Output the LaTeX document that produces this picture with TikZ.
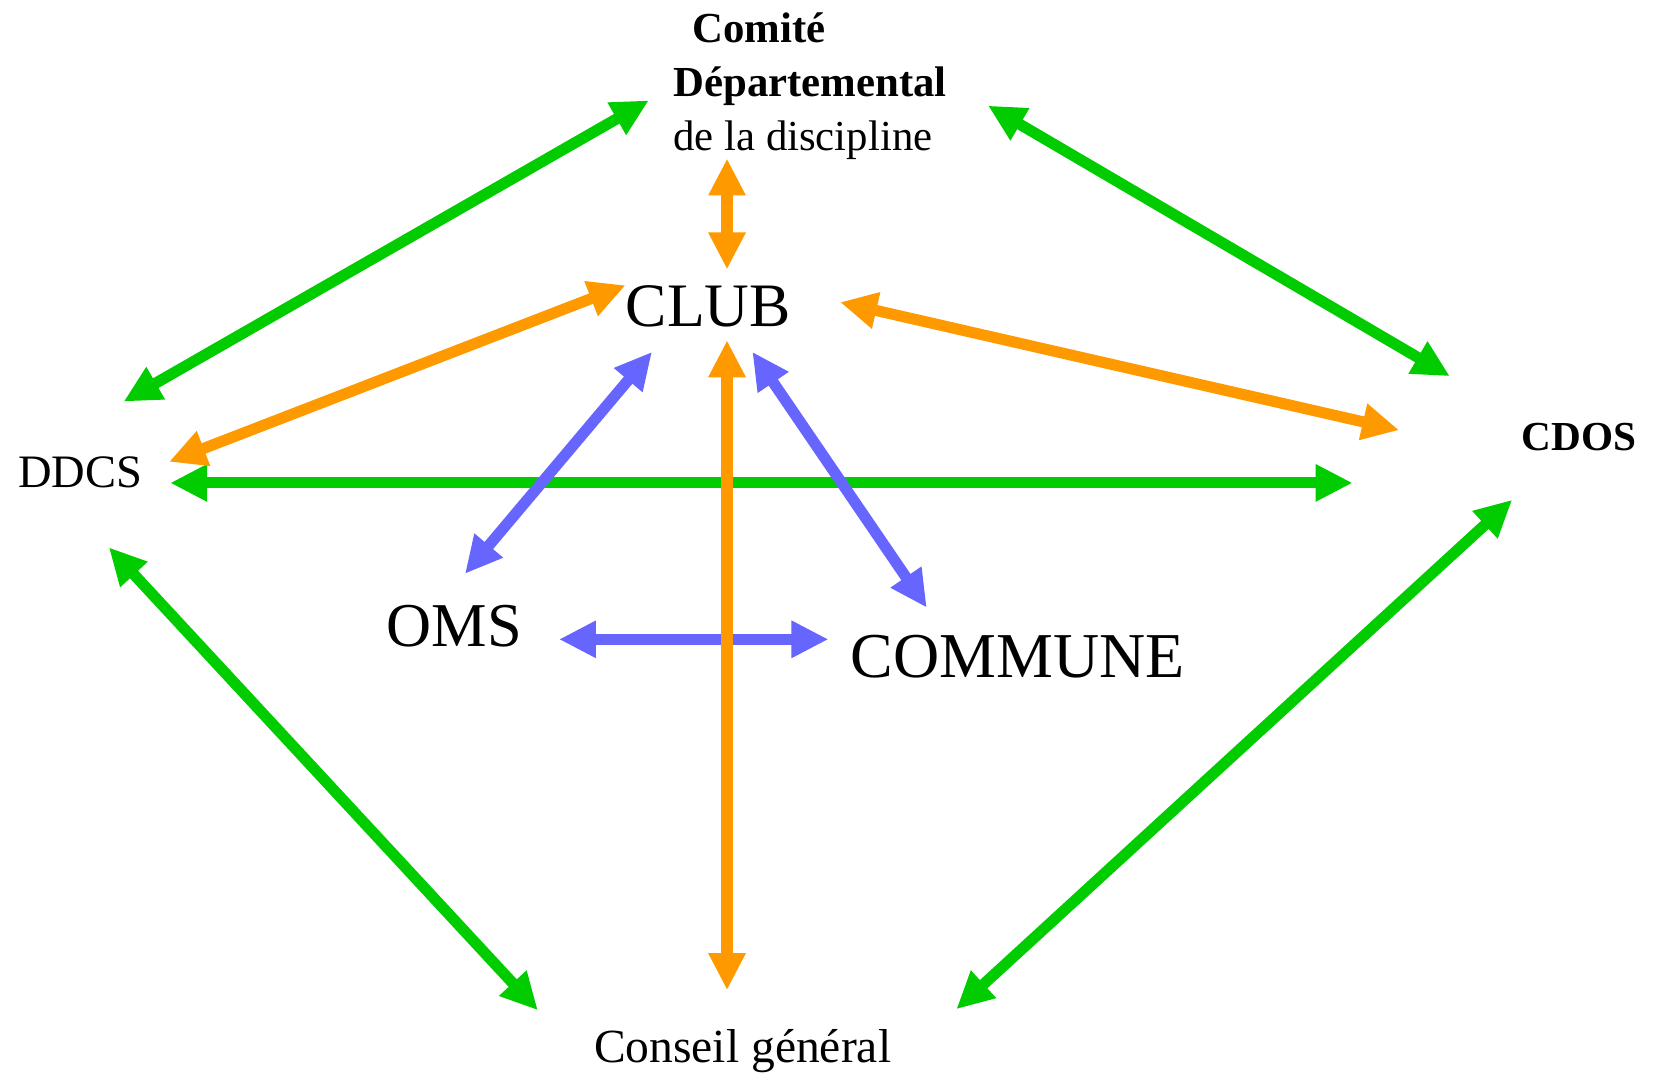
\documentclass[tikz,border=0pt]{standalone}
\usepackage{fontspec}
\setmainfont{Liberation Serif}
\usetikzlibrary{arrows.meta}
\definecolor{vert}{RGB}{0,204,0}
\definecolor{orng}{RGB}{255,153,0}
\definecolor{bleu}{RGB}{102,102,255}
\newcommand{\Fs}[1]{\fontsize{#1}{1.25\dimexpr#1pt\relax}\selectfont}

\begin{document}
\begin{tikzpicture}[x=1pt, y=-1pt,
  fl/.style={line width=10.5pt,
    {Triangle[length=35pt,width=33pt]}-{Triangle[length=35pt,width=33pt]}},
  lbl/.style={inner sep=0pt, anchor=base west}]

  \useasboundingbox (0,0) rectangle (1569,1016);

  % actors
  \node[inner sep=0pt, anchor=north west, align=left,
        font=\fontsize{40.5}{51}\selectfont] (comite) at (637,12)
    {\hspace{18pt}\textbf{Comité}\\\textbf{Départemental}\\de la discipline};
  \node[lbl, font=\Fs{58.5}] (club) at (592,309) {CLUB};
  \node[lbl, font=\Fs{44}] (ddcs) at (17,461) {DDCS};
  \node[lbl, font=\Fs{39}\bfseries] (cdos) at (1440,426) {CDOS};
  \node[lbl, font=\Fs{59}] (oms) at (366,612) {OMS};
  \node[lbl, font=\Fs{60.5}] (commune) at (805,641) {COMMUNE};
  \node[lbl, font=\Fs{45}] (cg) at (562,1005) {Conseil général};

  % arrow ends
  \coordinate (ddcsN) at (117,380);
  \coordinate (ddcsE1) at (160,437);
  \coordinate (ddcsE2) at (161,457);
  \coordinate (ddcsS) at (103,518);
  \coordinate (comW) at (614,95);
  \coordinate (comS) at (688,150);
  \coordinate (comE) at (935,100);
  \coordinate (clubW) at (592,270);
  \coordinate (clubN) at (688,255);
  \coordinate (clubE) at (795,286);
  \coordinate (clubS) at (688,322);
  \coordinate (clubSW) at (617,333);
  \coordinate (clubSE) at (712,333);
  \coordinate (cdosNW) at (1372,356);
  \coordinate (cdosW1) at (1324,407);
  \coordinate (cdosW2) at (1280,457);
  \coordinate (cdosS) at (1431,473);
  \coordinate (omsN) at (440,543);
  \coordinate (omsE) at (529,605);
  \coordinate (comuN) at (877,575);
  \coordinate (comuW) at (784,605);
  \coordinate (cgNW) at (509,956);
  \coordinate (cgN) at (688,937);
  \coordinate (cgNE) at (905,955);

  % green : departement
  \draw[fl, vert] (ddcsN) -- (comW);
  \draw[fl, vert] (comE) -- (cdosNW);
  \draw[fl, vert] (ddcsE2) -- (cdosW2);
  \draw[fl, vert] (ddcsS) -- (cgNW);
  \draw[fl, vert] (cdosS) -- (cgNE);

  % blue : commune
  \draw[fl, bleu] (clubSW) -- (omsN);
  \draw[fl, bleu] (clubSE) -- (comuN);
  \draw[fl, bleu] (omsE) -- (comuW);

  % orange : club
  \draw[fl, orng] (comS) -- (clubN);
  \draw[fl, orng] (ddcsE1) -- (clubW);
  \draw[fl, orng] (clubE) -- (cdosW1);
  \draw[fl, orng] (clubS) -- (cgN);
\end{tikzpicture}
\end{document}
